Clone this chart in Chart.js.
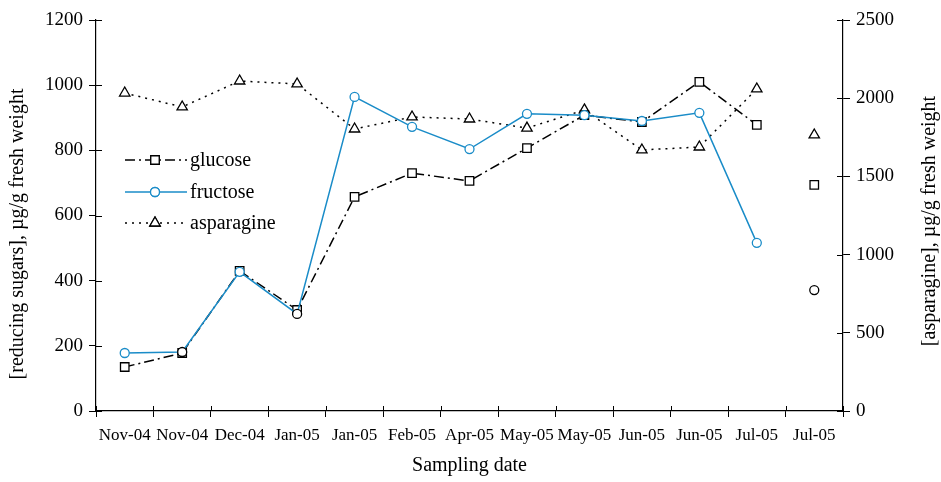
<!DOCTYPE html>
<html>
<head>
<meta charset="utf-8">
<script src="https://cdn.jsdelivr.net/npm/chart.js@4/dist/chart.umd.min.js"></script>
<style>
  html, body { margin: 0; padding: 0; background: #fff; }
  #wrap { width: 941px; height: 482px; }
</style>
</head>
<body>
<div id="wrap"><canvas id="chart" width="941" height="482"></canvas></div>
<script>
const dates = ['Nov-04', 'Nov-04', 'Dec-04', 'Jan-05', 'Jan-05', 'Feb-05', 'Apr-05',
  'May-05', 'May-05', 'Jun-05', 'Jun-05', 'Jul-05', 'Jul-05'];
const glucose = [135, 178, 430, 310, 657, 730, 706, 807, 908, 887, 1010, 878, 694];
const fructose = [178, 181, 427, 298, 964, 872, 804, 912, 908, 890, 915, 516, 371];
const asparagine = [2033, 1944, 2110, 2091, 1803, 1880, 1867, 1809, 1925, 1669, 1688, 2059, 1765];

const serif = 'Liberation Serif';
const blue = '#1a8cc8';

// last sample (second Jul-05) is shown unconnected
const noLastSegment = ctx => ctx.p1DataIndex === dates.length - 1 ? 'transparent' : undefined;

const fructoseBorders = fructose.map((v, i) => (i === 1 || i === 3 || i === 12) ? '#000' : blue);

// legend drawn inside the plot, line sample with marker in the middle
const insideLegend = {
  id: 'insideLegend',
  afterDatasetsDraw(chart) {
    const ctx = chart.ctx;
    const x0 = 125, x1 = 187, xm = 155, xt = 190;
    const rows = [160, 192, 223];
    chart.data.datasets.forEach((ds, i) => {
      const y = rows[i];
      ctx.save();
      ctx.strokeStyle = ds.borderColor;
      ctx.lineWidth = ds.borderWidth;
      ctx.setLineDash(ds.borderDash || []);
      ctx.beginPath();
      ctx.moveTo(x0, y);
      ctx.lineTo(x1, y);
      ctx.stroke();
      ctx.setLineDash([]);
      ctx.fillStyle = '#fff';
      ctx.strokeStyle = ds.legendPointColor;
      ctx.lineWidth = 1.3;
      Chart.helpers.drawPoint(ctx, { pointStyle: ds.pointStyle, radius: ds.pointRadius, rotation: 0, borderWidth: 1.3 }, xm, y);
      ctx.fill();
      ctx.stroke();
      ctx.fillStyle = '#000';
      ctx.font = '20px "' + serif + '"';
      ctx.textBaseline = 'middle';
      ctx.fillText(ds.label, xt, y + 1);
      ctx.restore();
    });
  }
};

// ticks in the reference cross the axis line; add the inner half
const innerTicks = {
  id: 'innerTicks',
  afterDraw(chart) {
    const ctx = chart.ctx;
    const { x, y, y2 } = chart.scales;
    ctx.save();
    ctx.strokeStyle = '#000';
    ctx.lineWidth = 1;
    ctx.beginPath();
    y.ticks.forEach((t, i) => {
      const py = Math.round(y.getPixelForTick(i)) + 0.5;
      ctx.moveTo(y.right, py); ctx.lineTo(y.right + 6, py);
    });
    y2.ticks.forEach((t, i) => {
      const py = Math.round(y2.getPixelForTick(i)) + 0.5;
      ctx.moveTo(y2.left - 6, py); ctx.lineTo(y2.left, py);
    });
    for (let i = 0; i <= dates.length; i++) {
      const px = Math.round(x.getPixelForValue(i - 0.5)) + 0.5;
      ctx.moveTo(px, x.top - 5); ctx.lineTo(px, x.top);
    }
    ctx.stroke();
    ctx.restore();
  }
};

// both y titles read bottom to top
const yTitles = {
  id: 'yTitles',
  afterDraw(chart) {
    const ctx = chart.ctx;
    const put = (text, cx, cy) => {
      ctx.save();
      ctx.translate(cx, cy);
      ctx.rotate(-Math.PI / 2);
      ctx.fillStyle = '#000';
      ctx.font = '20px "' + serif + '"';
      ctx.textAlign = 'center';
      ctx.textBaseline = 'middle';
      ctx.fillText(text, 0, 0);
      ctx.restore();
    };
    put('[reducing sugars], \u00b5g/g fresh weight', 18, 234);
    put('[asparagine], \u00b5g/g fresh weight', 930, 221);
  }
};

new Chart(document.getElementById('chart'), {
  type: 'line',
  data: {
    labels: dates,
    datasets: [
      {
        label: 'glucose',
        data: glucose,
        yAxisID: 'y',
        borderColor: '#000',
        borderWidth: 1.5,
        borderDash: [10, 4, 2, 4],
        pointStyle: 'rect',
        pointRadius: 6,
        pointBorderWidth: 1.3,
        pointBorderColor: '#000',
        pointBackgroundColor: '#fff',
        legendPointColor: '#000',
        segment: { borderColor: noLastSegment },
        order: 2
      },
      {
        label: 'fructose',
        data: fructose,
        yAxisID: 'y',
        borderColor: blue,
        borderWidth: 1.5,
        pointStyle: 'circle',
        pointRadius: 4.5,
        pointBorderWidth: 1.3,
        pointBorderColor: fructoseBorders,
        pointBackgroundColor: '#fff',
        legendPointColor: blue,
        segment: { borderColor: noLastSegment },
        order: 1
      },
      {
        label: 'asparagine',
        data: asparagine,
        yAxisID: 'y2',
        borderColor: '#000',
        borderWidth: 1.5,
        borderDash: [2, 5],
        pointStyle: 'triangle',
        pointRadius: 6,
        pointBorderWidth: 1.3,
        pointBorderColor: '#000',
        pointBackgroundColor: '#fff',
        legendPointColor: '#000',
        segment: { borderColor: noLastSegment },
        order: 3
      }
    ]
  },
  options: {
    responsive: false,
    animation: false,
    layout: { padding: { top: 20, left: 0, right: 0, bottom: 0 } },
    plugins: {
      legend: { display: false },
      tooltip: { enabled: false }
    },
    scales: {
      x: {
        offset: true,
        grid: { offset: true, drawOnChartArea: false, color: '#000', tickLength: 6, tickWidth: 1 },
        border: { color: '#000', width: 1.2 },
        ticks: {
          color: '#000', font: { family: serif, size: 17 },
          autoSkip: false, maxRotation: 0, padding: 8
        },
        title: {
          display: true, text: 'Sampling date', color: '#000',
          font: { family: serif, size: 20 }, padding: { top: 21 }
        },
        afterFit: s => { s.height = 71; }
      },
      y: {
        position: 'left',
        min: 0, max: 1200,
        ticks: {
          stepSize: 200, color: '#000', font: { family: serif, size: 19 }, padding: 6,
          callback: v => String(v)
        },
        grid: { drawOnChartArea: false, color: '#000', tickLength: 7 },
        border: { color: '#000', width: 1.2 },
        afterFit: s => { s.width = 96; }
      },
      y2: {
        position: 'right',
        min: 0, max: 2500,
        ticks: {
          stepSize: 500, color: '#000', font: { family: serif, size: 19 }, padding: 6,
          callback: v => String(v)
        },
        grid: { drawOnChartArea: false, color: '#000', tickLength: 7 },
        border: { color: '#000', width: 1.2 },
        afterFit: s => { s.width = 98; }
      }
    }
  },
  plugins: [insideLegend, innerTicks, yTitles]
});
</script>
</body>
</html>
